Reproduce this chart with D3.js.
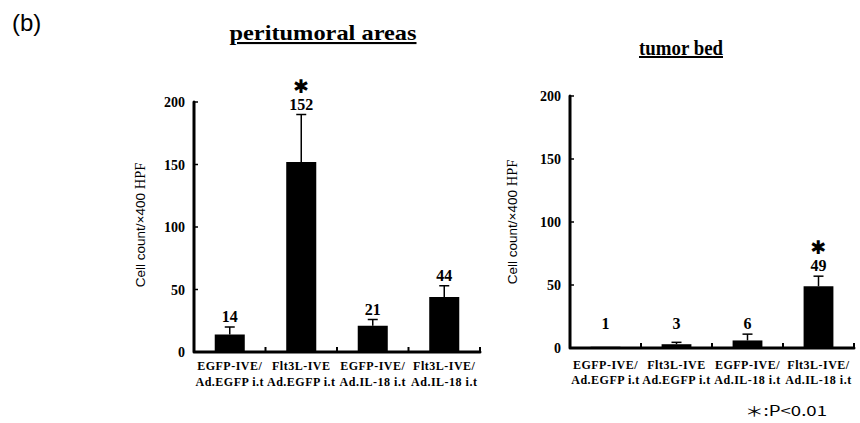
<!DOCTYPE html>
<html><head><meta charset="utf-8">
<script src="https://cdn.jsdelivr.net/npm/d3@7"></script>
<style>body{margin:0;background:#fff}</style>
</head><body>
<svg id="c" width="860" height="423"></svg>
<script>
const categories = [
  ["EGFP-IVE/", "Ad.EGFP i.t"],
  ["Flt3L-IVE", "Ad.EGFP i.t"],
  ["EGFP-IVE/", "Ad.IL-18 i.t"],
  ["Flt3L-IVE/", "Ad.IL-18 i.t"]
];
const periMeans = [14, 152, 21, 44];
const periErrors = [6, 38, 5, 9];
const periSig = [false, true, false, false];
const bedMeans = [1, 3, 6, 49];
const bedErrors = [0, 1.5, 5, 8];
const bedSig = [false, false, false, true];
const yTicks = [0, 50, 100, 150, 200];
const yLabelA = "Cell count/\u00d7400 ";
const yLabelB = "HPF";

const svg = d3.select("#c");
const serif = "'Liberation Serif','Times New Roman',serif";
const sans = "'Liberation Sans',Arial,sans-serif";

svg.append("text").attr("x", 12).attr("y", 31).attr("font-family", sans)
  .attr("font-size", 24).text("(b)");

function panel(o) {
  const x = d3.scaleBand().domain(d3.range(categories.length)).range([o.x0, o.x1])
    .paddingInner(0.58).paddingOuter(0.29);
  const y = d3.scaleLinear().domain([0, 200]).range([o.y0, o.y1]);
  const g = svg.append("g");

  // title
  g.append("text").attr("x", o.tx).attr("y", o.ty).attr("text-anchor", "middle")
    .attr("font-family", serif).attr("font-weight", "bold").attr("font-size", o.tf)
    .attr("textLength", o.tw).attr("lengthAdjust", "spacingAndGlyphs")
    .attr("text-decoration", "underline").text(o.title);

  // bars
  const data = o.means.map((m, i) => ({i, m, e: o.errors[i], s: o.sig[i]}));
  g.selectAll("rect.bar").data(data).join("rect")
    .attr("x", d => x(d.i)).attr("width", x.bandwidth())
    .attr("y", d => y(d.m)).attr("height", d => y(0) - y(d.m)).attr("fill", "#000");

  // error bars
  const eb = data.filter(d => d.e > 0);
  const cx = d => x(d.i) + x.bandwidth() / 2;
  g.selectAll("line.err").data(eb).join("line")
    .attr("x1", cx).attr("x2", cx)
    .attr("y1", d => y(d.m)).attr("y2", d => y(d.m + d.e))
    .attr("stroke", "#000").attr("stroke-width", 1.5);
  g.selectAll("line.cap").data(eb).join("line")
    .attr("x1", d => cx(d) - 5).attr("x2", d => cx(d) + 5)
    .attr("y1", d => y(d.m + d.e)).attr("y2", d => y(d.m + d.e))
    .attr("stroke", "#000").attr("stroke-width", 1.5);

  // value labels
  const ly = d => Math.min(y(d.m + d.e) - 5, y(15));
  g.selectAll("text.val").data(data).join("text")
    .attr("x", cx).attr("y", ly)
    .attr("text-anchor", "middle").attr("font-family", serif).attr("font-weight", "bold")
    .attr("font-size", 16).text(d => d.m);
  g.selectAll("text.sig").data(data.filter(d => d.s)).join("text")
    .attr("x", cx).attr("y", d => ly(d) - 17)
    .attr("text-anchor", "middle").attr("font-family", "'DejaVu Sans',sans-serif").attr("font-weight", "bold")
    .attr("font-size", 19).text("\u2731");

  // axes
  const path = d3.path();
  path.moveTo(o.x0, y(200));
  path.lineTo(o.x0, y(0));
  path.lineTo(o.x1, y(0));
  g.append("path").attr("d", path.toString()).attr("fill", "none").attr("stroke", "#000")
    .attr("stroke-width", 3).attr("stroke-linejoin", "round").attr("stroke-linecap", "round");
  const bx = d3.range(1, categories.length + 1).map(i => o.x0 + x.step() * i);
  g.selectAll("line.xt").data(bx).join("line")
    .attr("x1", d => d).attr("x2", d => d).attr("y1", y(0)).attr("y2", y(0) - 5)
    .attr("stroke", "#000").attr("stroke-width", 2);
  g.selectAll("line.yt").data(yTicks).join("line")
    .attr("x1", o.x0).attr("x2", o.x0 + 4).attr("y1", d => y(d)).attr("y2", d => y(d))
    .attr("stroke", "#000").attr("stroke-width", 1.5);
  g.selectAll("text.yt").data(yTicks).join("text")
    .attr("x", o.x0 - 9).attr("y", d => y(d) + 5).attr("text-anchor", "end")
    .attr("font-family", serif).attr("font-weight", "bold").attr("font-size", 14).text(d => d);

  // y label
  const yl = g.append("text").attr("transform", `translate(${o.yl},${o.ylc}) rotate(-90)`)
    .attr("text-anchor", "middle").attr("font-size", 13.5);
  yl.append("tspan").attr("font-family", sans).text(yLabelA);
  yl.append("tspan").attr("font-family", serif).attr("font-size", 14.5).text(yLabelB);

  // category labels
  const cl = g.selectAll("text.cat").data(categories).join("text")
    .attr("text-anchor", "middle").attr("font-family", serif).attr("font-weight", "bold")
    .attr("font-size", 12).attr("letter-spacing", 0.5);
  cl.append("tspan").attr("x", (d, i) => x(i) + x.bandwidth() / 2).attr("y", y(0) + o.c1).text(d => d[0]);
  cl.append("tspan").attr("x", (d, i) => x(i) + x.bandwidth() / 2).attr("y", y(0) + o.c2).text(d => d[1]);
}

panel({x0: 194, x1: 480, y0: 352, y1: 102, means: periMeans, errors: periErrors, sig: periSig,
  title: "peritumoral areas", tf: 21, tx: 323, ty: 40, tw: 187, yl: 145, ylc: 225, c1: 18, c2: 34});
panel({x0: 570, x1: 854, y0: 348, y1: 96, means: bedMeans, errors: bedErrors, sig: bedSig,
  title: "tumor bed", tf: 20, tx: 681, ty: 55, tw: 84, yl: 517, ylc: 222, c1: 21, c2: 36});

svg.append("text").attr("x", 745).attr("y", 416).attr("font-family", "'Noto Sans CJK JP',sans-serif")
  .attr("font-size", 14).attr("textLength", 82).attr("lengthAdjust", "spacingAndGlyphs")
  .text("\uff0a:P<0.01");
</script>
</body></html>
